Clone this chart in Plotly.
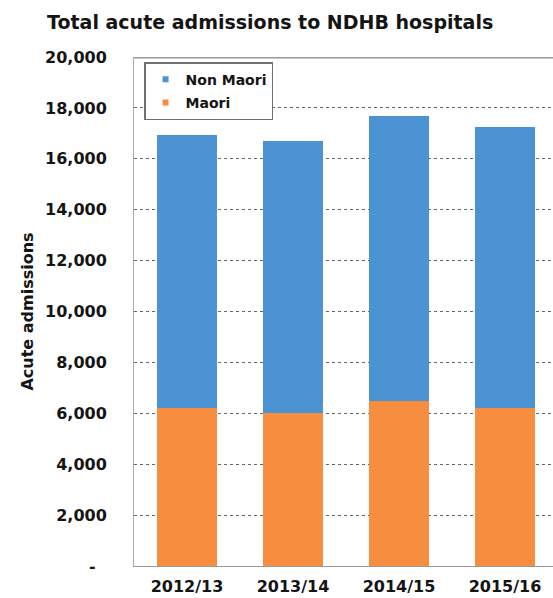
import plotly.graph_objects as go

years = ["2012/13", "2013/14", "2014/15", "2015/16"]
maori = [6220, 6000, 6480, 6220]
non_maori = [10715, 10710, 11210, 11040]
ytick_vals = [0, 2000, 4000, 6000, 8000, 10000, 12000, 14000, 16000, 18000, 20000]
ytick_text = ["-\u00a0\u00a0", "2,000", "4,000", "6,000", "8,000", "10,000", "12,000",
              "14,000", "16,000", "18,000", "20,000"]

BLUE = "#4C93D4"
ORANGE = "#F78D3E"
FONT = "DejaVu Sans, Verdana, sans-serif"
TXT = "#141414"

fig = go.Figure()
fig.add_trace(go.Bar(x=years, y=maori, name="Maori", marker=dict(color=ORANGE, line=dict(width=0)),
                     showlegend=False))
fig.add_trace(go.Bar(x=years, y=non_maori, name="Non Maori", marker=dict(color=BLUE, line=dict(width=0)),
                     showlegend=False))
# legend entries
fig.add_trace(go.Scatter(x=[None], y=[None], mode="markers", name="Non Maori", legendgroup="a",
                         marker=dict(symbol="square", size=6, color=BLUE)))
fig.add_trace(go.Scatter(x=[None], y=[None], mode="markers", name="Maori", legendgroup="b",
                         marker=dict(symbol="square", size=6, color=ORANGE)))

fig.update_layout(
    width=553, height=598,
    margin=dict(l=134, r=0, t=57, b=32),
    paper_bgcolor="white", plot_bgcolor="white",
    barmode="stack", bargap=0.434,
    font=dict(family=FONT, color=TXT),
    title=dict(text="<b>Total acute admissions to NDHB hospitals</b>",
               font=dict(size=19, family=FONT, color=TXT),
               xref="container", yref="container", x=47/553, xanchor="left",
               y=1 - 22/598, yanchor="middle"),
    legend=dict(x=0.024, y=0.99, xanchor="left", yanchor="top",
                bordercolor="#6f6f6f", borderwidth=1.5, bgcolor="white",
                font=dict(size=14, family=FONT, color=TXT, weight="bold"),
                traceorder="grouped", itemwidth=30, tracegroupgap=2),
    showlegend=True,
)
fig.update_xaxes(range=[-0.5, -0.5 + (553 - 134) / 106], showgrid=False,
                 showline=True, linecolor="#999999", linewidth=1,
                 tickfont=dict(size=16, family=FONT, color=TXT, weight="bold"),
                 ticks="", ticklabelstandoff=6, fixedrange=True)
fig.update_yaxes(range=[0, 20000], tickvals=ytick_vals, ticktext=ytick_text,
                 showgrid=True, gridcolor="#666666", griddash="dot", gridwidth=1,
                 showline=True, linecolor="#aaaaaa", linewidth=1, zeroline=False,
                 ticks="", ticklabelstandoff=23,
                 tickfont=dict(size=16, family=FONT, color=TXT, weight="bold"),
                 title=dict(text="<b>Acute admissions</b>", standoff=7,
                            font=dict(size=16, family=FONT, color=TXT)))
fig.add_shape(type="line", xref="paper", yref="y", x0=0, x1=1, y0=20000, y1=20000,
              line=dict(color="#9a9a9a", width=3))

fig.write_html("out.html")
